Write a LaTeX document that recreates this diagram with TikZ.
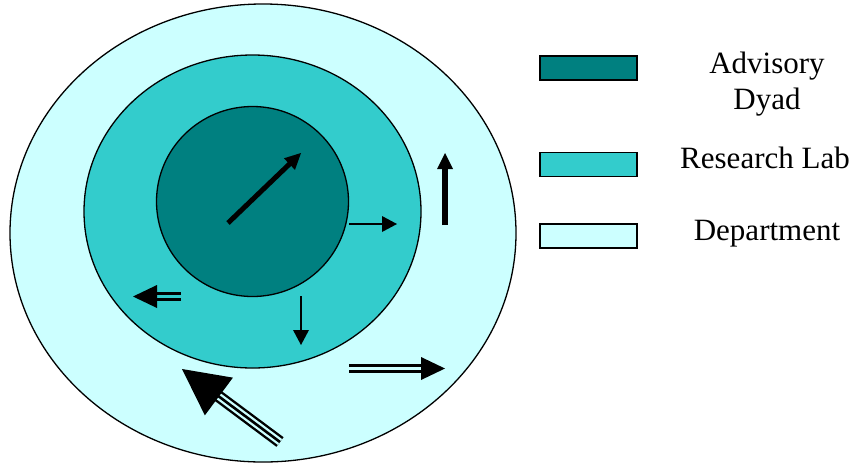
\documentclass[tikz,border=0pt]{standalone}
\usepackage{fontspec}
\setmainfont{Liberation Serif}
\usetikzlibrary{calc}
\definecolor{dark}{HTML}{008080}
\definecolor{mid}{HTML}{33CCCC}
\definecolor{light}{HTML}{CCFFFF}
% #1 tail, #2 tip, #3 head length, #4 head half width
\newcommand\myhead[4]{%
  \path ($(#2)!#3!(#1)$) coordinate (hb);
  \fill[black] (#2) -- ($(hb)!#4!90:(#2)$) -- ($(hb)!#4!-90:(#2)$) -- cycle;}
\begin{document}
\begin{tikzpicture}[x=1pt,y=-1pt,
  outline/.style={draw=black,line width=1.3pt},
  legbox/.style={outline,minimum width=97pt,minimum height=24pt,inner sep=0pt},
  legtext/.style={font=\fontsize{31}{36}\selectfont,inner sep=0pt,align=center},
  shaft/.style={draw=black,line cap=butt}]
\useasboundingbox (0,0) rectangle (858,464);
\fill[white] (0,0) rectangle (858,464);
% circles
\path[outline,fill=light] (263,233) ellipse [x radius=253pt,y radius=229pt];
\path[outline,fill=mid] (252.5,211.5) ellipse [x radius=168.5pt,y radius=156.5pt];
\path[outline,fill=dark] (252.5,201.5) ellipse [x radius=96pt,y radius=95pt];
% arrow coordinates
\coordinate (a1t) at (228,223); \coordinate (a1h) at (301,153);
\coordinate (a2t) at (349,224); \coordinate (a2h) at (397,224);
\coordinate (a3t) at (301,296); \coordinate (a3h) at (301,345);
\coordinate (a4t) at (445,225); \coordinate (a4h) at (445,153);
\coordinate (a5t) at (181,296.5); \coordinate (a5h) at (133,296.5);
\coordinate (a6t) at (349,368.5); \coordinate (a6h) at (445,368.5);
\coordinate (a7t) at (280,442); \coordinate (a7h) at (182,369);
% single arrows
\draw[shaft,line width=5pt] (a1t) -- ($(a1h)!14pt!(a1t)$); \myhead{a1t}{a1h}{16pt}{8pt}
\draw[shaft,line width=2pt] (a2t) -- ($(a2h)!14pt!(a2t)$); \myhead{a2t}{a2h}{15pt}{8pt}
\draw[shaft,line width=2pt] (a3t) -- ($(a3h)!14pt!(a3t)$); \myhead{a3t}{a3h}{15pt}{8pt}
\draw[shaft,line width=5.5pt] (a4t) -- ($(a4h)!14pt!(a4t)$); \myhead{a4t}{a4h}{16pt}{8pt}
% double arrows
\draw[shaft,line width=8.5pt] (a5t) -- ($(a5h)!22pt!(a5t)$);
\draw[shaft,draw=mid,line width=3.2pt] (a5t) -- ($(a5h)!22pt!(a5t)$);
\myhead{a5t}{a5h}{24pt}{11.5pt}
\draw[shaft,line width=8.5pt] (a6t) -- ($(a6h)!22pt!(a6t)$);
\draw[shaft,draw=light,line width=3.2pt] (a6t) -- ($(a6h)!22pt!(a6t)$);
\myhead{a6t}{a6h}{24pt}{11.5pt}
% triple arrow
\draw[shaft,line width=12pt] (a7t) -- ($(a7h)!44pt!(a7t)$);
\draw[shaft,draw=light,line width=7.2pt] (a7t) -- ($(a7h)!44pt!(a7t)$);
\draw[shaft,line width=2.6pt] (a7t) -- ($(a7h)!44pt!(a7t)$);
\myhead{a7t}{a7h}{46pt}{23.5pt}
% legend
\node[legbox,fill=dark] (l1) at (588.5,68) {};
\node[legbox,fill=mid] (l2) at (588.5,164.5) {};
\node[legbox,fill=light] (l3) at (588.5,236) {};
\node[legtext,anchor=base] (t1) at (767,109) {Advisory\\Dyad};
\node[legtext,anchor=base] (t2) at (765,168) {Research Lab};
\node[legtext,anchor=base] (t3) at (767,240) {Department};
\end{tikzpicture}
\end{document}
